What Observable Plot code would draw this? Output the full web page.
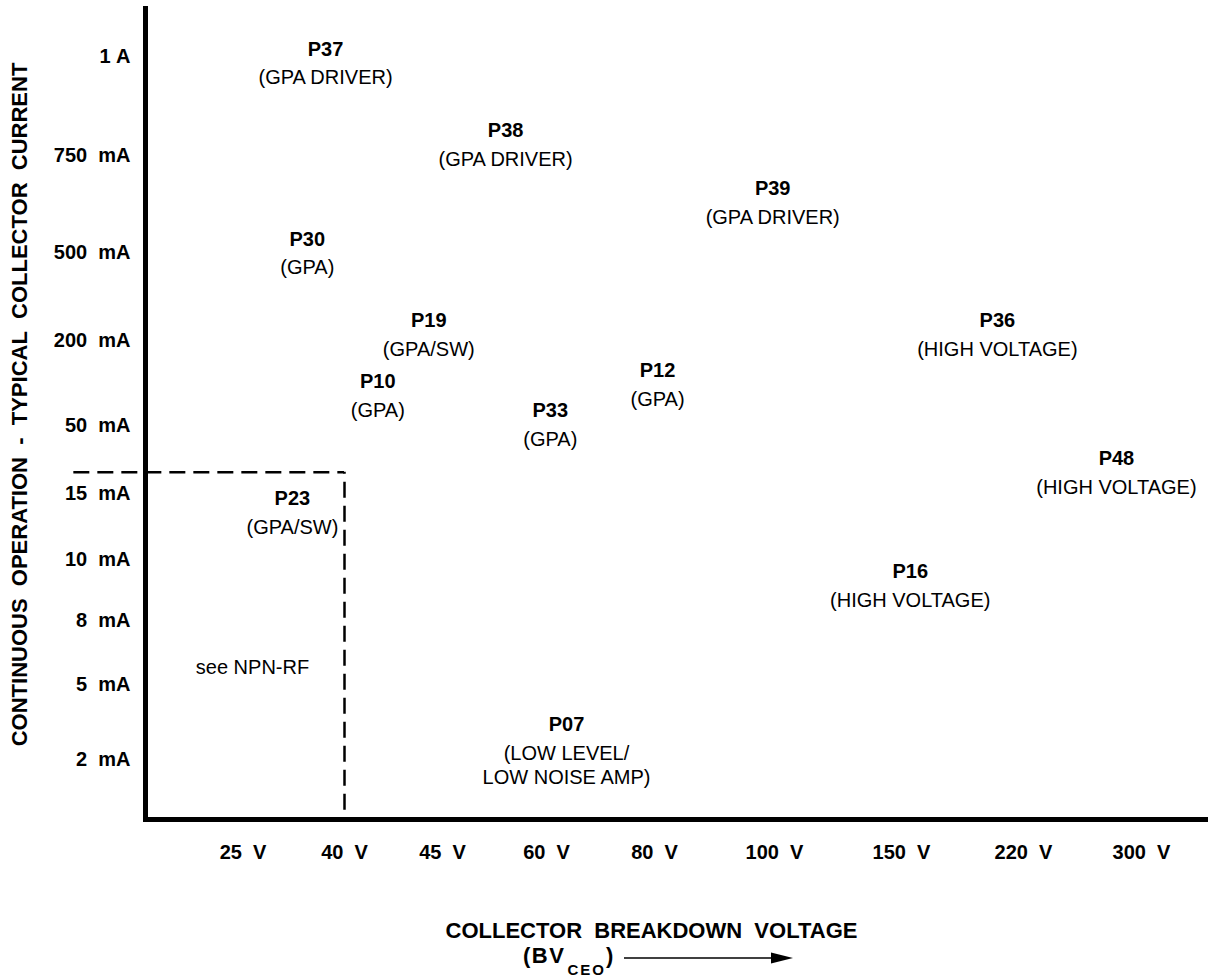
<!DOCTYPE html>
<html>
<head>
<meta charset="utf-8">
<script src="https://cdn.jsdelivr.net/npm/d3@7"></script>
<script src="https://cdn.jsdelivr.net/npm/@observablehq/plot@0.6"></script>
<style>
  body { margin: 0; background: #fff; font-family: "Liberation Sans", Arial, sans-serif; }
  #wrap { position: relative; width: 1213px; height: 977px; background: #fff; }
  #chart { position: absolute; left: 0; top: 0; }
  .xl1 { position: absolute; top: 920px; left: 651.5px; transform: translateX(-50%);
         font-weight: bold; font-size: 22px; line-height: 22px; white-space: nowrap; color: #000; }
  .xl2 { position: absolute; top: 945px; left: 523px; font-weight: bold; font-size: 22px;
         line-height: 22px; white-space: nowrap; color: #000; display: flex; align-items: flex-start; }
  .xl2 .main { letter-spacing: 1.5px; }
  .xl2 .sub { font-size: 15px; letter-spacing: 2px; position: relative; top: 14px; margin-left: 2px; }
  .xl2 svg { margin-left: 11px; margin-top: 7px; }
</style>
</head>
<body>
<div id="wrap">
  <div id="chart"></div>
  <div class="xl1">COLLECTOR&nbsp; BREAKDOWN&nbsp; VOLTAGE</div>
  <div class="xl2"><span class="main">(BV</span><span class="sub">CEO</span><span>)</span>
    <svg width="169" height="12" viewBox="0 0 169 12"><line x1="0" y1="6" x2="150" y2="6" stroke="#000" stroke-width="1.5"/><polygon points="147,0.5 169,6 147,11.5" fill="#000"/></svg>
  </div>
</div>
<script>
// Category ticks of the two ordinal axes
const voltTicks = [25, 40, 45, 60, 80, 100, 150, 220, 300];
const voltLabels = ["25  V", "40  V", "45  V", "60  V", "80  V", "100  V", "150  V", "220  V", "300  V"];
const currTicks = [2, 5, 8, 10, 15, 50, 200, 500, 750, 1000];
const currLabels = ["2  mA", "5  mA", "8  mA", "10  mA", "15  mA", "50  mA", "200  mA", "500  mA", "750  mA", "1 A"];

// Product families: name, breakdown voltage (V), collector current (mA), application
const parts     = ["P37", "P38", "P39", "P30", "P19", "P36", "P10", "P12", "P33", "P48", "P23", "P16", "P07"];
const partVolts = [37.2, 54.1, 99.7, 34.5, 44.3, 205, 41.7, 80.5, 60.7, 283, 32.3, 155, 63.7];
const partCurr  = [1018, 814, 666, 535, 270, 270, 128.5, 148, 77.4, 33.1, 14.6, 9.6, 3.4];
const partUses  = ["(GPA DRIVER)", "(GPA DRIVER)", "(GPA DRIVER)", "(GPA)", "(GPA/SW)", "(HIGH VOLTAGE)",
                   "(GPA)", "(GPA)", "(GPA)", "(HIGH VOLTAGE)", "(GPA/SW)", "(HIGH VOLTAGE)",
                   "(LOW LEVEL/\nLOW NOISE AMP)"];

// NPN-RF region boundary
const rfVolt = [40];
const rfCurr = [26];
const rfNote = ["see NPN-RF"];
const rfNoteVolt = [26.4];
const rfNoteCurr = [5.8];

const yTitle = ["CONTINUOUS  OPERATION  -  TYPICAL  COLLECTOR  CURRENT"];

const nbsp = s => s.replace(/ /g, "\u00a0");
const partData = parts.map((p, i) => ({name: p, v: partVolts[i], c: partCurr[i], use: partUses[i]}));
const noteData = rfNote.map((t, i) => ({t, v: rfNoteVolt[i], c: rfNoteCurr[i]}));

const chart = Plot.plot({
  width: 1213,
  height: 900,
  marginLeft: 145,
  marginTop: 8,
  marginRight: 8,
  marginBottom: 81,
  style: {fontFamily: "'Liberation Sans', Arial, sans-serif", fontWeight: "bold", color: "#000", background: "#fff", overflow: "visible"},
  x: {type: "linear", domain: voltTicks, range: [242.5, 344, 442, 546, 654, 774, 901, 1023, 1141], axis: null},
  y: {type: "linear", domain: currTicks, range: [759.5, 684, 620, 559, 493, 425.5, 340.5, 252.5, 155.5, 56], axis: null},
  marks: [
    Plot.axisX({ticks: voltTicks, tickFormat: d => nbsp(voltLabels[voltTicks.indexOf(d)]), tickSize: 0, tickPadding: 25,
                fontSize: 20, fontWeight: "bold", label: null, anchor: "bottom"}),
    Plot.axisY({ticks: currTicks, tickFormat: d => nbsp(currLabels[currTicks.indexOf(d)]), tickSize: 0, tickPadding: 15,
                fontSize: 20, fontWeight: "bold", label: null, anchor: "left"}),
    Plot.text(yTitle, {text: d => nbsp(d), frameAnchor: "left", textAnchor: "middle", lineAnchor: "middle",
                       rotate: -90, dx: 19 - 145, dy: -9.5, fontSize: 22, fontWeight: "bold", fill: "#000"}),
    Plot.ruleY(rfCurr, {y: d => d, x2: rfVolt[0], stroke: "#000", strokeWidth: 2.5, strokeDasharray: "16,8"}),
    Plot.ruleX(rfVolt, {x: d => d, y1: rfCurr[0], stroke: "#000", strokeWidth: 2.5, strokeDasharray: "16,8"}),
    Plot.frame({anchor: "left", stroke: "#000", strokeWidth: 5, strokeLinecap: "square"}),
    Plot.frame({anchor: "bottom", stroke: "#000", strokeWidth: 5, strokeLinecap: "square"}),
    Plot.text(partData, {x: "v", y: "c", text: "name", fontSize: 20, fontWeight: "bold", fill: "#000",
                         textAnchor: "middle", lineAnchor: "middle"}),
    Plot.text(partData, {x: "v", y: "c", text: "use", fontSize: 20, fontWeight: "normal", fill: "#000",
                         textAnchor: "middle", lineAnchor: "top", lineHeight: 1.2, dy: 18}),
    Plot.text(noteData, {x: "v", y: "c", text: "t", fontSize: 20, fontWeight: "normal", fill: "#000",
                         textAnchor: "middle", lineAnchor: "middle"})
  ]
});
document.getElementById("chart").appendChild(chart);
</script>
</body>
</html>
